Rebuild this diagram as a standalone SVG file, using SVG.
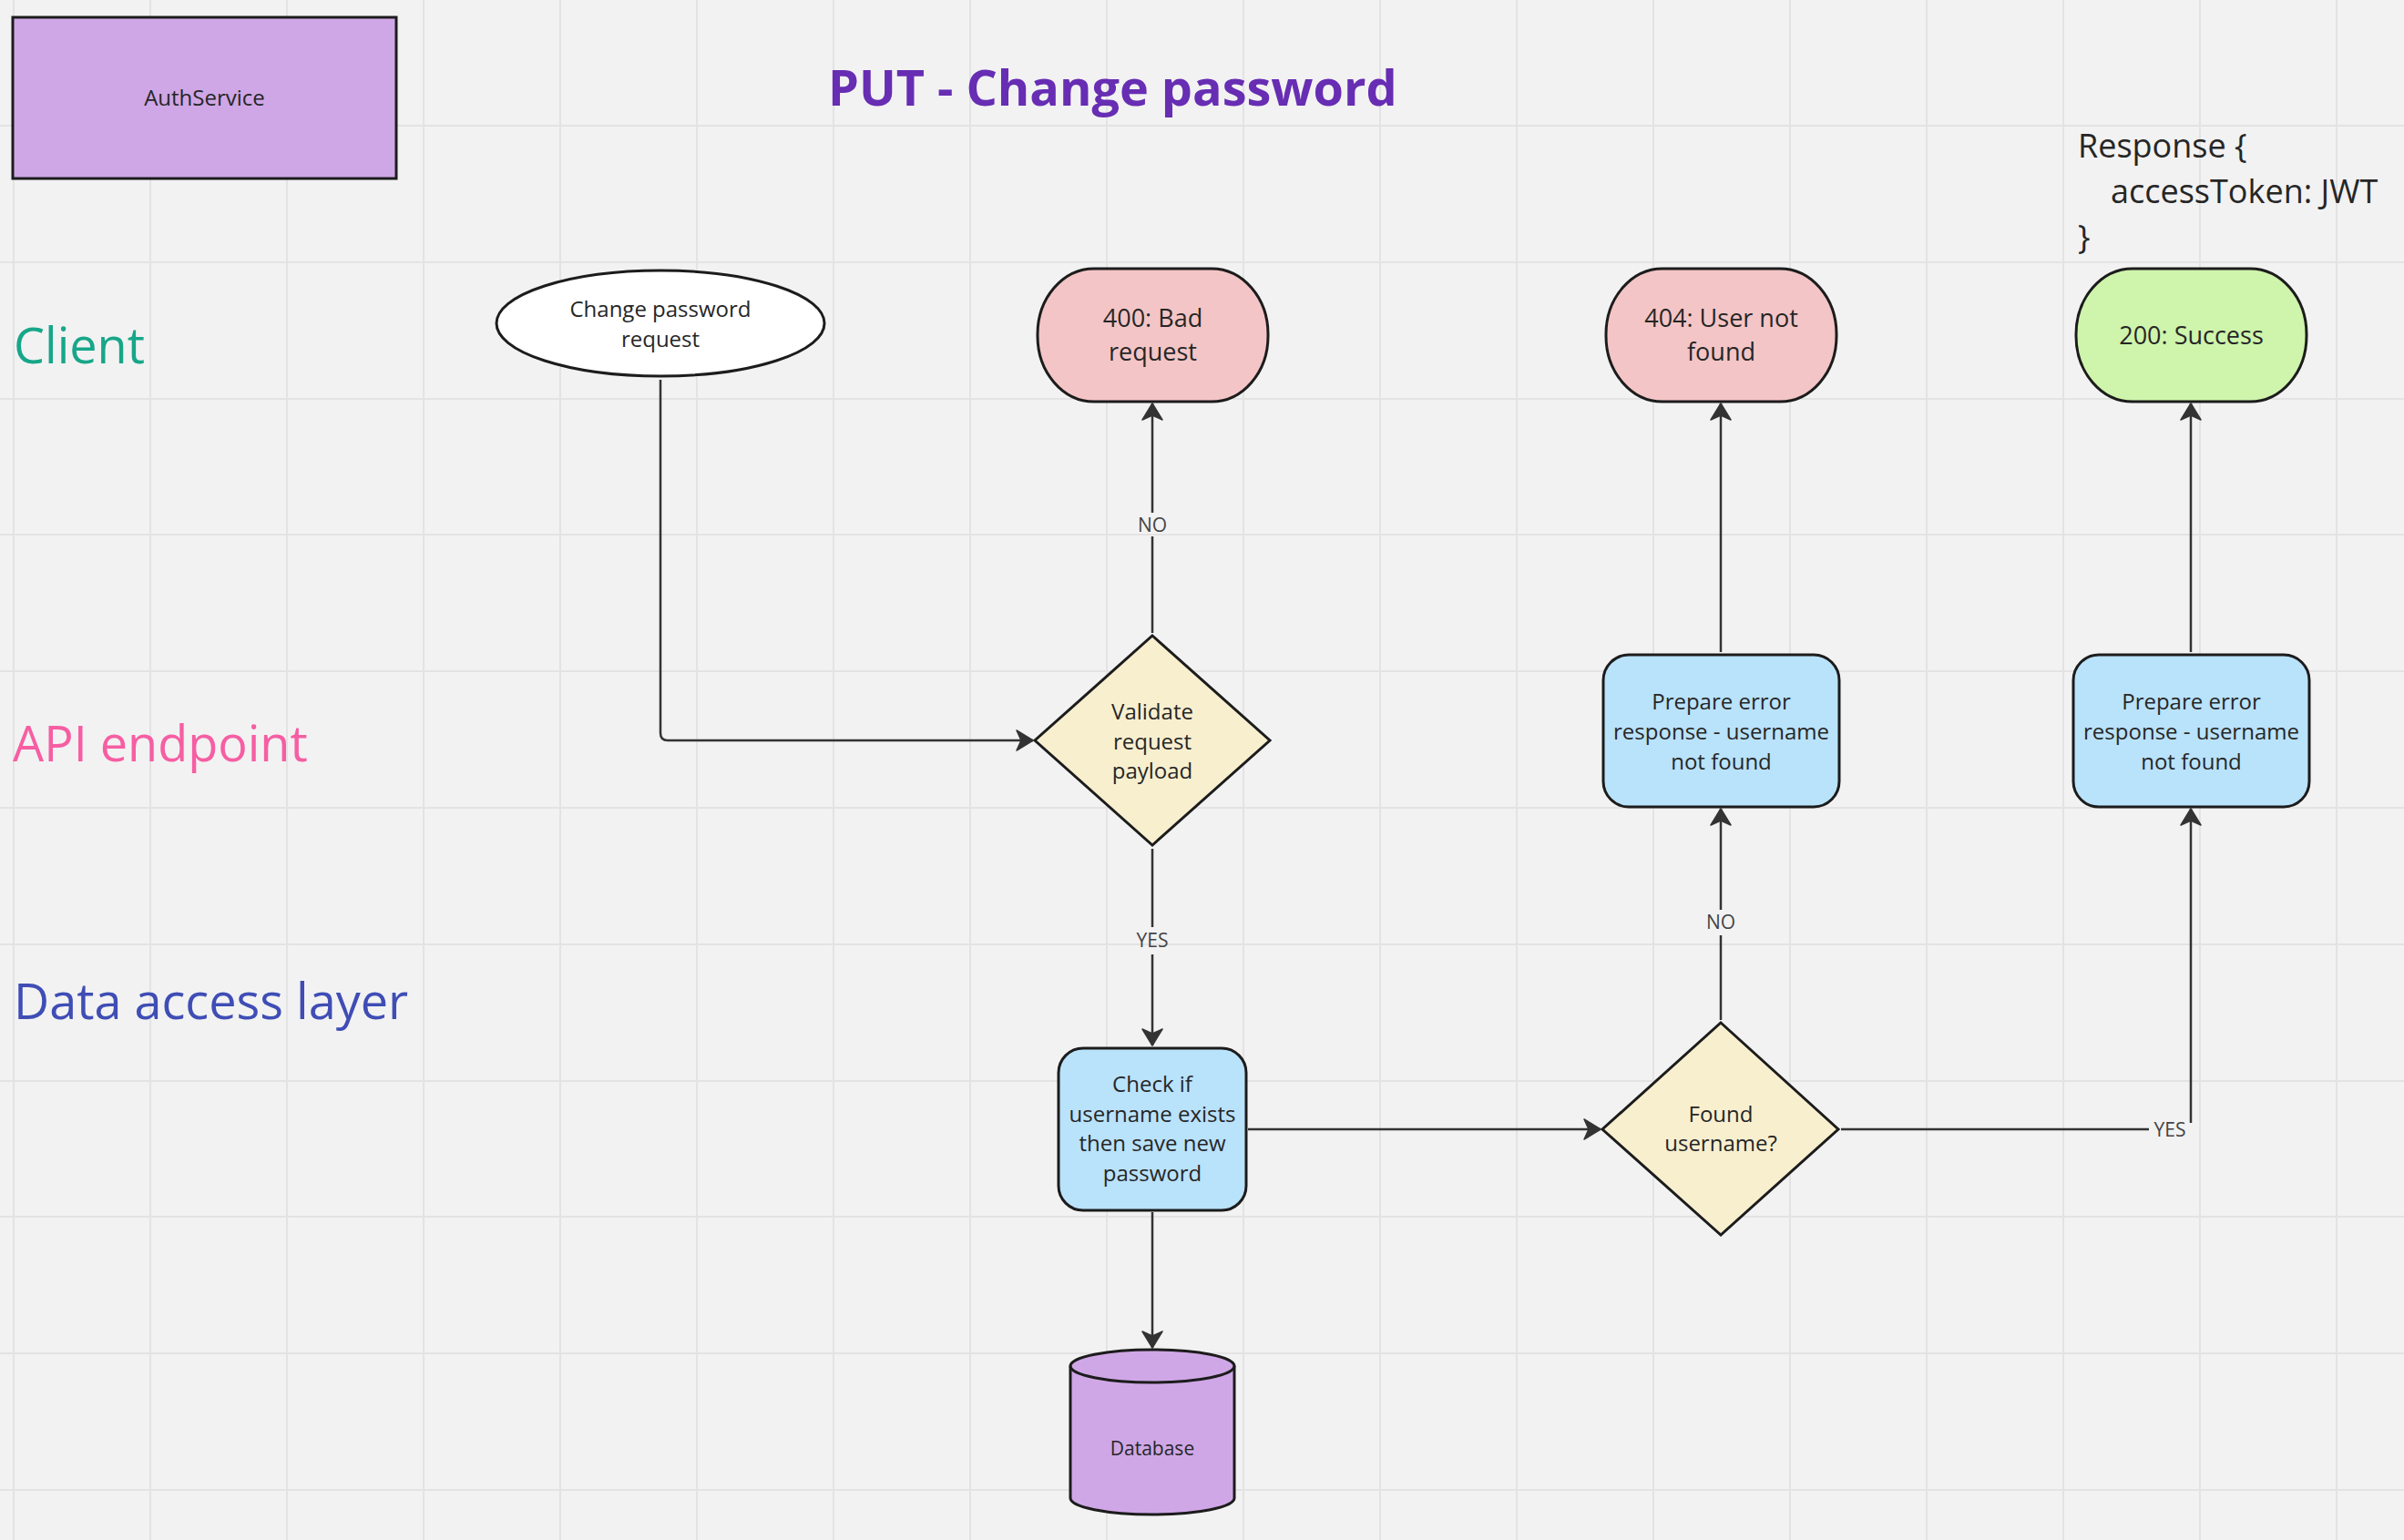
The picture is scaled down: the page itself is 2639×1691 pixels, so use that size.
<svg xmlns="http://www.w3.org/2000/svg" width="2639" height="1691" viewBox="0 0 2639 1691">
<defs>
<style>
text{font-family:"Open Sans","Noto Sans","Liberation Sans",sans-serif;}
.grid{stroke:#e3e3e3;stroke-width:2;fill:none;}
.node{stroke:#1c1c1c;stroke-width:3;}
.t{fill:#262626;font-size:24px;text-anchor:middle;}
.tt{fill:#262626;font-size:27px;text-anchor:middle;}
.lane{font-size:54px;}
.conn{stroke:#333333;stroke-width:2.5;fill:none;}
.lbl{fill:#444444;font-size:21px;text-anchor:middle;}
.purple{fill:#cfa7e6;}
.pink{fill:#f4c5c6;}
.green{fill:#cff4ac;}
.blue{fill:#b9e2fb;}
.yellow{fill:#f8efcf;}
</style>
<marker id="arr" markerUnits="userSpaceOnUse" viewBox="-22 -13 24 26" refX="0" refY="0" markerWidth="24" markerHeight="26" orient="auto">
<path d="M0,0 L-18,-11 L-13,0 L-18,11 Z" fill="#333333" stroke="#333333" stroke-width="1.5" stroke-linejoin="round"/>
</marker>
</defs>
<rect x="0" y="0" width="2639" height="1691" fill="#f2f2f2"/>
<g id="grid">
<path class="grid" d="M15,0V1691M165,0V1691M315,0V1691M465,0V1691M615,0V1691M765,0V1691M915,0V1691M1065,0V1691M1215,0V1691M1365,0V1691M1515,0V1691M1665,0V1691M1815,0V1691M1965,0V1691M2115,0V1691M2265,0V1691M2415,0V1691M2565,0V1691"/>
<path class="grid" d="M0,138H2639M0,288H2639M0,438H2639M0,587H2639M0,737H2639M0,887H2639M0,1037H2639M0,1187H2639M0,1336H2639M0,1486H2639M0,1636H2639"/>
</g>
<g id="title">
<text x="909" y="116" font-size="54" font-weight="bold" fill="#672db3">PUT - Change password</text>
</g>
<g id="lanes">
<text class="lane" x="15" y="399" fill="#17a689">Client</text>
<text class="lane" x="14" y="836" fill="#f65ea3">API endpoint</text>
<text class="lane" x="15" y="1119" fill="#3f4db5">Data access layer</text>
</g>
<g id="response-note">
<text x="2281" y="173" font-size="36" fill="#262626">Response {</text>
<text x="2317" y="223" font-size="36" fill="#262626">accessToken: JWT</text>
<text x="2281" y="273" font-size="36" fill="#262626">}</text>
</g>
<g id="connectors">
<path class="conn" d="M725,417 V805 Q725,813 733,813 H1134" marker-end="url(#arr)"/>
<path class="conn" d="M1265,695 V589 M1265,563 V443" marker-end="url(#arr)"/>
<text class="lbl" x="1265" y="584">NO</text>
<path class="conn" d="M1265,932 V1018 M1265,1048 V1148" marker-end="url(#arr)"/>
<text class="lbl" x="1265" y="1040">YES</text>
<path class="conn" d="M1265,1331 V1480" marker-end="url(#arr)"/>
<path class="conn" d="M1370,1240 H1757" marker-end="url(#arr)"/>
<path class="conn" d="M1889,1120 V1027 M1889,999 V888" marker-end="url(#arr)"/>
<text class="lbl" x="1889" y="1020">NO</text>
<path class="conn" d="M2021,1240 H2359 M2405,1233 V888" marker-end="url(#arr)"/>
<text class="lbl" x="2382" y="1248">YES</text>
<path class="conn" d="M1889,716 V443" marker-end="url(#arr)"/>
<path class="conn" d="M2405,716 V443" marker-end="url(#arr)"/>
</g>
<g id="authservice">
<rect class="node purple" x="14" y="19" width="421" height="177"/>
<text class="t" x="224.5" y="116">AuthService</text>
</g>
<g id="change-password-request">
<ellipse class="node" cx="725" cy="355" rx="180" ry="58" fill="#ffffff"/>
<text class="t" x="725" y="348">Change password</text>
<text class="t" x="725" y="381">request</text>
</g>
<g id="bad-request">
<rect class="node pink" x="1139" y="295" width="253" height="146" rx="62" ry="72"/>
<text class="tt" x="1265.5" y="359">400: Bad</text>
<text class="tt" x="1265.5" y="396">request</text>
</g>
<g id="user-not-found">
<rect class="node pink" x="1763" y="295" width="253" height="146" rx="62" ry="72"/>
<text class="tt" x="1889.5" y="359">404: User not</text>
<text class="tt" x="1889.5" y="396">found</text>
</g>
<g id="success">
<rect class="node green" x="2279" y="295" width="253" height="146" rx="62" ry="72"/>
<text class="tt" x="2405.5" y="378">200: Success</text>
</g>
<g id="validate">
<polygon class="node yellow" points="1265,698 1394,813 1265,928 1136,813"/>
<text class="t" x="1265" y="790">Validate</text>
<text class="t" x="1265" y="823">request</text>
<text class="t" x="1265" y="855">payload</text>
</g>
<g id="prepare-error-404">
<rect class="node blue" x="1760" y="719" width="259" height="167" rx="28"/>
<text class="t" x="1889.5" y="779">Prepare error</text>
<text class="t" x="1889.5" y="812">response - username</text>
<text class="t" x="1889.5" y="845">not found</text>
</g>
<g id="prepare-success">
<rect class="node blue" x="2276" y="719" width="259" height="167" rx="28"/>
<text class="t" x="2405.5" y="779">Prepare error</text>
<text class="t" x="2405.5" y="812">response - username</text>
<text class="t" x="2405.5" y="845">not found</text>
</g>
<g id="check-username">
<rect class="node blue" x="1162" y="1151" width="206" height="178" rx="27"/>
<text class="t" x="1265" y="1199">Check if</text>
<text class="t" x="1265" y="1232">username exists</text>
<text class="t" x="1265" y="1264">then save new</text>
<text class="t" x="1265" y="1297">password</text>
</g>
<g id="found-username">
<polygon class="node yellow" points="1889,1123 2018,1240 1889,1356 1759,1240"/>
<text class="t" x="1889" y="1232">Found</text>
<text class="t" x="1889" y="1264">username?</text>
</g>
<g id="database">
<path class="node purple" d="M1175,1500 A90,18 0 0 1 1355,1500 V1645 A90,18 0 0 1 1175,1645 Z"/>
<path class="node" fill="none" d="M1175,1500 A90,18 0 0 0 1355,1500"/>
<text x="1265" y="1598" font-size="21" fill="#262626" text-anchor="middle">Database</text>
</g>
</svg>
